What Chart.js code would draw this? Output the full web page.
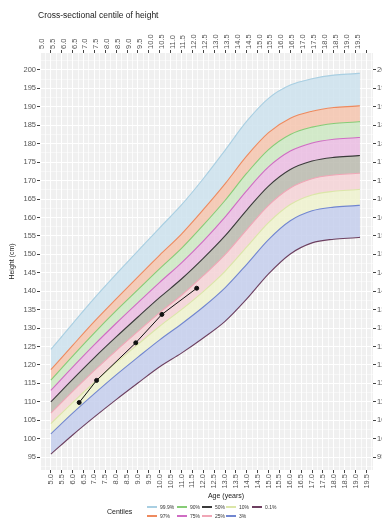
<!DOCTYPE html>
<html lang="en">
<head>
    <meta charset="UTF-8">
    <title>Cross-sectional centile of height</title>
    <script src="https://cdn.jsdelivr.net/npm/chart.js"></script>
    <style>
        body {
            margin: 0;
            background: #ffffff;
            font-family: "Liberation Sans", Arial, sans-serif;
        }
        #wrap {
            position: relative;
            width: 382px;
            height: 532px;
        }
        #title {
            position: absolute;
            left: 38px;
            top: 10px;
            font-size: 8.5px;
            color: #1a1a1a;
        }
        #xTitle {
            position: absolute;
            left: 226px;
            top: 492px;
            transform: translateX(-50%);
            font-size: 7px;
            color: #1a1a1a;
            white-space: nowrap;
        }
        #legend {
            position: absolute;
            left: 107px;
            top: 502px;
            display: flex;
            align-items: center;
        }
        #legend .name {
            font-size: 7px;
            color: #1a1a1a;
            width: 40px;
        }
        #legend .items {
            display: grid;
            grid-template-rows: 9px 9px;
            grid-template-columns: 30px 25px 24px 26px 28px;
            grid-auto-flow: column;
        }
        #legend .item {
            display: flex;
            align-items: center;
            font-size: 5px;
            color: #333;
        }
        #legend .swatch {
            display: inline-block;
            width: 10px;
            height: 2px;
            margin-right: 3px;
        }
    </style>
</head>
<body>
<div id="wrap">
    <canvas id="chart" width="382" height="532"></canvas>
    <div id="title">Cross-sectional centile of height</div>
    <div id="xTitle">Age (years)</div>
    <div id="legend">
        <span class="name">Centiles</span>
        <div class="items" id="legendItems"></div>
    </div>
</div>

<script>
    // ages where the centile curves are read (years)
    const ages = [5, 6, 7, 8, 9, 10, 11, 12, 13, 14, 15, 16, 17, 18, 19, 19.2];

    // centile curves, height in cm
    const c999 = [124.2, 131.2, 138.1, 144.6, 150.9, 157.2, 163.4, 170.5, 178.2, 186.1, 192.3, 195.9, 197.6, 198.6, 199.0, 199.1];
    const c97  = [118.7, 125.3, 131.8, 137.9, 143.9, 149.8, 155.5, 162.1, 169.1, 176.7, 183.0, 186.9, 188.8, 189.8, 190.2, 190.3];
    const c90  = [115.9, 122.4, 128.7, 134.7, 140.4, 146.1, 151.6, 157.9, 164.6, 172.0, 178.4, 182.5, 184.5, 185.5, 185.9, 186.0];
    const c75  = [113.1, 119.4, 125.5, 131.3, 136.9, 142.4, 147.7, 153.6, 160.1, 167.3, 173.7, 178.0, 180.2, 181.2, 181.6, 181.7];
    const c50  = [110.0, 116.1, 122.0, 127.6, 133.0, 138.3, 143.3, 148.9, 155.0, 162.0, 168.5, 173.0, 175.3, 176.3, 176.7, 176.8];
    const c25  = [106.9, 112.8, 118.5, 123.9, 129.1, 134.2, 138.9, 144.2, 149.9, 156.7, 163.3, 168.0, 170.5, 171.5, 171.9, 172.0];
    const c10  = [104.1, 109.8, 115.3, 120.6, 125.6, 130.5, 135.0, 139.9, 145.4, 152.0, 158.6, 163.5, 166.1, 167.1, 167.5, 167.6];
    const c3   = [101.3, 106.9, 112.2, 117.3, 122.1, 126.8, 131.1, 135.7, 140.9, 147.3, 154.0, 159.1, 161.8, 162.8, 163.2, 163.3];
    const c01  = [95.8, 101.0, 105.9, 110.6, 115.1, 119.5, 123.2, 127.3, 131.8, 137.9, 144.7, 150.1, 153.1, 154.1, 154.5, 154.6];

    const centileNames = ['99.9%', '97%', '90%', '75%', '50%', '25%', '10%', '3%', '0.1%'];
    const centileValues = [c999, c97, c90, c75, c50, c25, c10, c3, c01];

    // measured child
    const childAges = [6.3, 7.1, 8.9, 10.1, 11.7];
    const childHeights = [109.8, 115.8, 126.0, 133.7, 140.8];

    // axis ranges
    const ageMin = 4.5, ageMax = 19.8;
    const heightMin = 91.5, heightMax = 204.6;

    // line colours and band colours (band = area down to next centile)
    const lineColors = ['#a9cfe2', '#ee8a5e', '#86cc76', '#cf6cc3', '#3a3a3a', '#f0a6b6', '#dbe6a8', '#7186d0', '#6d4060'];
    const bandColors = [
        'rgba(204,226,237,0.85)',
        'rgba(245,196,174,0.85)',
        'rgba(205,232,194,0.85)',
        'rgba(234,188,226,0.85)',
        'rgba(186,186,174,0.85)',
        'rgba(245,210,214,0.85)',
        'rgba(238,242,206,0.85)',
        'rgba(196,206,236,0.85)',
        'rgba(0,0,0,0)'
    ];

    function isMajorAge(v) {
        return Math.abs(v * 2 - Math.round(v * 2)) < 1e-6;
    }
    function isMajorHeight(v) {
        return Math.abs(v / 5 - Math.round(v / 5)) < 1e-6;
    }

    const datasets = centileValues.map((vals, i) => ({
        label: centileNames[i],
        data: ages.map((a, j) => ({ x: a, y: vals[j] })),
        borderColor: lineColors[i],
        backgroundColor: bandColors[i],
        borderWidth: 1.1,
        pointRadius: 0,
        cubicInterpolationMode: 'monotone',
        fill: i < centileValues.length - 1 ? '+1' : false,
        order: 1
    }));
    datasets.push({
        label: 'Child',
        data: childAges.map((a, j) => ({ x: a, y: childHeights[j] })),
        borderColor: '#111111',
        backgroundColor: '#111111',
        borderWidth: 1,
        pointRadius: 2,
        fill: false,
        order: -1
    });

    // light grey panel behind the grid
    const panelBg = {
        id: 'panelBg',
        beforeDraw(chart) {
            const { ctx, chartArea: a } = chart;
            ctx.save();
            ctx.fillStyle = '#f0f0f0';
            ctx.fillRect(a.left, a.top, a.right - a.left, a.bottom - a.top);
            ctx.restore();
        }
    };

    const tickFont = { family: 'Liberation Sans', size: 7.5 };

    function ageAxis(position, height) {
        return {
            type: 'linear',
            position: position,
            min: ageMin,
            max: ageMax,
            border: { display: false },
            grid: {
                color: '#ffffff',
                lineWidth: ctx => isMajorAge(ctx.tick.value) ? 1 : 0.5,
                tickLength: 3,
                tickColor: ctx => (isMajorAge(ctx.tick.value) && ctx.tick.value >= 5) ? '#444444' : 'rgba(0,0,0,0)'
            },
            ticks: {
                stepSize: 0.25,
                includeBounds: false,
                autoSkip: false,
                minRotation: 90,
                maxRotation: 90,
                padding: 1,
                color: '#555555',
                font: tickFont,
                callback: v => (isMajorAge(v) && v >= 5 && v <= 19.5) ? v.toFixed(1) : ''
            },
            afterFit: s => { s.height = height; }
        };
    }

    function heightAxis(position, width, withTitle) {
        return {
            type: 'linear',
            position: position,
            min: heightMin,
            max: heightMax,
            border: { display: false },
            grid: {
                drawOnChartArea: position === 'left',
                color: '#ffffff',
                lineWidth: ctx => isMajorHeight(ctx.tick.value) ? 1 : 0.5,
                tickLength: 3,
                tickColor: ctx => isMajorHeight(ctx.tick.value) ? '#444444' : 'rgba(0,0,0,0)'
            },
            ticks: {
                stepSize: 2.5,
                includeBounds: false,
                autoSkip: false,
                padding: 1,
                color: '#555555',
                font: tickFont,
                callback: v => isMajorHeight(v) ? String(v) : ''
            },
            title: {
                display: withTitle,
                text: 'Height (cm)',
                color: '#1a1a1a',
                font: { family: 'Liberation Sans', size: 7 },
                padding: { top: 8, bottom: 0 }
            },
            afterFit: s => { s.width = width; }
        };
    }

    new Chart(document.getElementById('chart'), {
        type: 'line',
        data: { datasets: datasets },
        options: {
            responsive: false,
            animation: false,
            devicePixelRatio: 1,
            layout: { padding: { top: 26, bottom: 30, left: 0, right: 0 } },
            scales: {
                x: ageAxis('bottom', 32),
                x2: ageAxis('top', 27),
                y: heightAxis('left', 40, true),
                y2: heightAxis('right', 9, false)
            },
            plugins: {
                legend: { display: false },
                tooltip: { enabled: false },
                filler: { drawTime: 'beforeDatasetsDraw' }
            }
        },
        plugins: [panelBg]
    });

    // legend, filled column by column like the reference
    const legendItems = document.getElementById('legendItems');
    centileNames.forEach((name, i) => {
        const item = document.createElement('div');
        item.className = 'item';
        item.innerHTML = '<span class="swatch" style="background:' + lineColors[i] + '"></span>' + name;
        legendItems.appendChild(item);
    });
</script>
</body>
</html>
